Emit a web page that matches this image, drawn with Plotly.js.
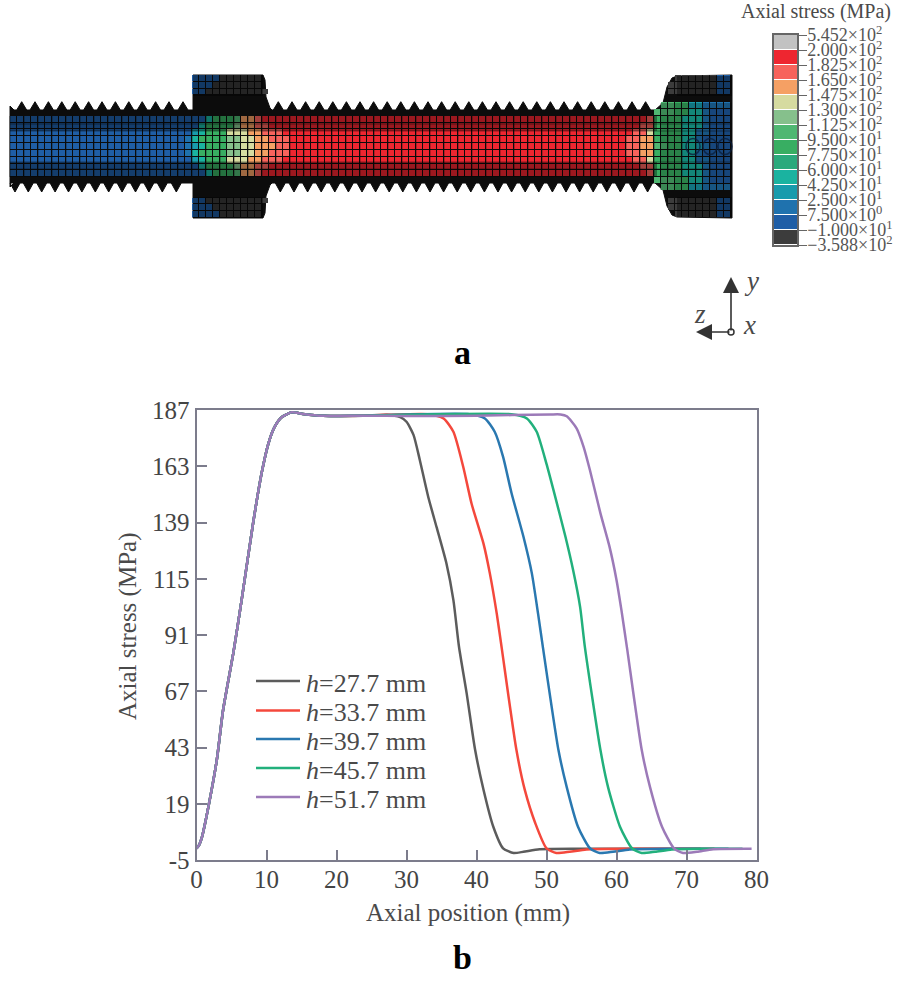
<!DOCTYPE html>
<html>
<head>
<meta charset="utf-8">
<script src="https://cdn.plot.ly/plotly-3.0.1.min.js"></script>
<style>html, body { margin: 0; padding: 0; background: #fff; }</style>
</head>
<body>
<div id="plt0" style="width:898px;height:986px;"></div>
<script>
// panel b: curves, axial position (mm) / axial stress (MPa)
var riseX = [0, 0.3, 0.8, 1.7, 2.9, 3.8, 5.3, 6.5, 8.1, 9.3, 10.3, 11.2, 12.2, 13.6, 15.2, 18.1, 23.8];
var riseY = [0, 1, 5, 17.7, 37.7, 59, 84, 107, 139, 160, 173, 180, 184, 186, 185.3, 184.5, 184.6];

var x277 = [27.2, 29.1, 30, 31, 31.9, 33.1, 34.3, 35.7, 36.7, 37.5, 38.6, 39.8, 41, 42.4, 43.8, 45.3, 46.7, 49, 55, 72];
var y277 = [185, 184, 182, 176.4, 165.7, 150, 137, 121.6, 105.9, 86, 66, 42, 25, 9.2, 0, -2, -1.5, -0.4, -0.2, -0.2];
var x337 = [33, 35.3, 36.7, 38.1, 39.3, 41, 41.9, 42.9, 43.6, 45.7, 46.9, 48.4, 50, 51.4, 53.3, 55.7, 62, 74];
var y337 = [185.2, 183.4, 177.7, 162.8, 147, 130, 117.4, 100, 85.5, 42, 24.9, 10.7, 0, -2, -1.5, -0.5, -0.2, -0.2];
var x397 = [39, 41.2, 42.6, 43.8, 45, 46.7, 47.9, 48.8, 49.5, 51.7, 52.9, 54.5, 56.2, 57.6, 59.5, 61.9, 68, 76];
var y397 = [185.2, 183.4, 177.7, 167, 151.6, 133, 117.4, 100, 85.5, 42, 26, 9.2, 0, -2, -1.5, -0.5, -0.2, -0.2];
var x457 = [45, 47.2, 48.6, 50, 51, 52.7, 53.8, 54.8, 55.5, 57.7, 58.8, 60.5, 62.2, 63.6, 65.5, 67.9, 72, 78];
var y457 = [185.2, 183.4, 177.7, 164, 152.8, 133, 118.7, 103, 85.5, 42, 26, 9.2, 0, -2, -1.5, -0.5, -0.2, -0.2];
var x517 = [30, 40, 50.5, 52, 52.9, 54.3, 55.3, 56.2, 57.7, 59, 60, 60.7, 61.5, 63.6, 64.8, 66.5, 68.2, 69.5, 71.5, 73.8, 79.3];
var y517 = [184.4, 184.6, 185.1, 185.1, 184.3, 179.2, 171.3, 161.4, 143, 128.7, 114.5, 101.7, 85.5, 42, 26, 9.2, 0, -2, -1.5, -0.4, -0.2];

var seriesNames = ['<i>h</i>=27.7 mm', '<i>h</i>=33.7 mm', '<i>h</i>=39.7 mm', '<i>h</i>=45.7 mm', '<i>h</i>=51.7 mm'];
var seriesX = [x277, x337, x397, x457, x517];
var seriesY = [y277, y337, y397, y457, y517];
var seriesColors = ['#5c5c5c', '#f4483c', '#2a78b0', '#22b07c', '#9c7ab8'];

var xTicks = [0, 10, 20, 30, 40, 50, 60, 70, 80];
var yTicks = [-5, 19, 43, 67, 91, 115, 139, 163, 187];

// panel a: contour legend
var legendLabels = ['5.452×10<sup>2</sup>', '2.000×10<sup>2</sup>', '1.825×10<sup>2</sup>', '1.650×10<sup>2</sup>', '1.475×10<sup>2</sup>',
    '1.300×10<sup>2</sup>', '1.125×10<sup>2</sup>', '9.500×10<sup>1</sup>', '7.750×10<sup>1</sup>', '6.000×10<sup>1</sup>',
    '4.250×10<sup>1</sup>', '2.500×10<sup>1</sup>', '7.500×10<sup>0</sup>', '−1.000×10<sup>1</sup>', '−3.588×10<sup>2</sup>'];
var levelEdges = [545.2, 200, 182.5, 165, 147.5, 130, 112.5, 95, 77.5, 60, 42.5, 25, 7.5, -10, -358.8];
var levelColors = ['#c2c2c2', '#ee2630', '#f7635c', '#f5a064', '#d6dba0', '#86c08c', '#4fb772', '#38ae62',
    '#2ba97c', '#1ab3a0', '#189bac', '#1f72ae', '#1f5ea6', '#3c3c3c'];

// panel a: model outline, page pixels
var tipsLeft = [21.7, 35, 48.4, 61.8, 75.2, 88.6, 102, 115.4, 128.8, 142.2, 155.6, 169, 183];
var tipsMid = [278.3, 292, 305.6, 319.2, 332.8, 346.4, 360, 373.6, 387.2, 400.8, 414.4, 428, 441.6, 455.2,
    468.8, 482.4, 496, 509.6, 523.2, 536.8, 550.4, 564, 577.6, 591.2, 604.8, 618.4, 632, 645.6];
var nutX = [193, 193, 263, 265, 266, 270];
var nutY = [110, 75, 75, 80, 97, 108];
var headX = [655, 663, 667, 672, 677, 732];
var headY = [110, 103, 87, 78, 76, 75];
var loopX = [693, 710, 725];

// panel a: axial stress (MPa) along each mesh row, [x where the run ends, value]; top half, mirrored below
var fieldRows = [
    [[193, null], [218, 0], [263, -100], [674, null], [715, -100], [732, 0]],
    [[193, null], [214, 0], [265, -100], [667, null], [715, -100], [732, 0]],
    [[193, null], [208, 0], [266, -100], [665, null], [715, -100], [732, 0]],
    [[732, null]],
    [[660, null], [675, 100], [678, 165], [690, 85], [703, 35], [732, 10]],
    [[657, null], [675, 100], [690, 85], [703, 45], [712, 20], [732, 5]],
    [[205, 0], [213, 50], [235, 85], [240, 110], [255, 150], [262, 170], [648, 190], [657, 170], [685, 85], [700, 50], [712, 20], [732, 5]],
    [[200, 0], [208, 50], [232, 85], [242, 120], [255, 150], [268, 165], [640, 190], [655, 165], [685, 85], [700, 50], [712, 20], [732, 5]],
    [[192, 0], [199, 25], [206, 50], [230, 85], [245, 130], [262, 150], [278, 165], [285, 175], [632, 190], [645, 165], [655, 145], [685, 85], [697, 50], [708, 20], [732, 5]],
    [[187, 0], [194, 20], [201, 45], [227, 85], [241, 120], [258, 140], [272, 155], [290, 170], [625, 190], [638, 170], [652, 150], [657, 135], [685, 85], [695, 50], [705, 20], [732, 5]],
    [[185, 0], [192, 20], [199, 40], [206, 55], [227, 85], [241, 120], [258, 140], [273, 155], [292, 170], [623, 190], [637, 170], [652, 150], [657, 135], [665, 100], [683, 85], [693, 50], [700, 35], [710, 20], [732, 5]]
];

var serif = '"Liberation Serif", "Times New Roman", serif';
var midY = 146.5;

function levelOf(v) {   // index of the contour band a stress falls in
    for (var i = 1; i < levelEdges.length; i++) {
        if (v >= levelEdges[i]) return i - 0.5;
    }
    return levelColors.length - 0.5;
}

function bandScale() {
    var n = levelColors.length, out = [];
    for (var i = 0; i < n; i++) {
        out.push([i / n, levelColors[i]]);
        out.push([(i + 1) / n, levelColors[i]]);
    }
    return out;
}

function outlinePath() {
    var xs = [10, 14], ys = [106, 110], i;
    tipsLeft.forEach(function (t) { xs.push(t - 5, t, t + 5); ys.push(110, 101.7, 110); });
    xs = xs.concat(nutX); ys = ys.concat(nutY);
    xs.push(272); ys.push(110);
    tipsMid.forEach(function (t) { xs.push(t - 5, t, t + 5); ys.push(110, 101.7, 110); });
    xs = xs.concat(headX); ys = ys.concat(headY);

    // lower side, threads sit half a pitch back
    var bx = [10, 14], by = [187, 183];
    tipsLeft.forEach(function (t) { bx.push(t - 11.7, t - 6.7, t - 1.7); by.push(183, 192, 183); });
    bx = bx.concat(nutX); by = by.concat(nutY.map(function (v) { return 2 * midY - v; }));
    bx.push(272); by.push(183);
    tipsMid.forEach(function (t) { bx.push(t - 3, t + 2, t + 7); by.push(183, 192, 183); });
    bx = bx.concat(headX); by = by.concat(headY.map(function (v) { return 2 * midY - v; }));

    var path = 'M' + xs[0] + ',' + ys[0];
    for (i = 1; i < xs.length; i++) path += 'L' + xs[i] + ',' + ys[i];
    for (i = bx.length - 1; i >= 0; i--) path += 'L' + bx[i] + ',' + by[i];
    return path + 'Z';
}

function fieldTrace() {
    var cols = [], rows = [], z = [];
    for (var c = 0; c < 103; c++) cols.push(13.5 + 7 * c);
    var order = fieldRows.concat(fieldRows.slice(0, 10).reverse());
    order.forEach(function (runs, i) {
        rows.push(78.4 + 6.81 * i);
        z.push(cols.map(function (cx) {
            for (var k = 0; k < runs.length; k++) {
                if (cx < runs[k][0]) return runs[k][1] === null ? null : levelOf(runs[k][1]);
            }
            return null;
        }));
    });
    return {
        type: 'heatmap', x: cols, y: rows, z: z, xaxis: 'x2', yaxis: 'y2',
        colorscale: bandScale(), zmin: 0, zmax: levelColors.length,
        showscale: false, xgap: 1, ygap: 1, hoverinfo: 'skip', showlegend: false
    };
}

function meshTrace() {
    var xs = [], ys = [];
    for (var gx = 10; gx < 732; gx += 14) {
        xs.push(gx, gx, null);
        ys.push(116, 177, null);
    }
    [124, 131, 162, 169].forEach(function (gy) {
        xs.push(10, 732, null);
        ys.push(gy, gy, null);
    });
    return {
        type: 'scatter', mode: 'lines', x: xs, y: ys, xaxis: 'x2', yaxis: 'y2',
        line: {color: 'rgba(10,10,10,0.45)', width: 1.2}, hoverinfo: 'skip', showlegend: false
    };
}

function createPlot() {
    var data = [];

    seriesNames.forEach(function (name, i) {
        data.push({
            type: 'scatter', mode: 'lines', name: name,
            x: riseX.concat(seriesX[i]), y: riseY.concat(seriesY[i]),
            line: {color: seriesColors[i], width: 2.5, shape: 'spline', smoothing: 0.6}
        });
    });

    data.push(fieldTrace());
    data.push(meshTrace());

    // contour legend
    data.push({
        type: 'heatmap', xaxis: 'x3', yaxis: 'y3', x: [0], y: levelColors.map(function (c, i) { return i + 0.5; }),
        z: levelColors.map(function (c, i) { return [i + 0.5]; }),
        colorscale: bandScale(), zmin: 0, zmax: levelColors.length, ygap: 1,
        showscale: false, hoverinfo: 'skip', showlegend: false
    });

    var axisColor = '#7c7c8c';
    var dim = function (x0, x1, y0, y1, alpha) {
        return {type: 'rect', xref: 'x2', yref: 'y2', x0: x0, x1: x1, y0: y0, y1: y1,
            fillcolor: 'rgba(0,0,0,' + alpha + ')', line: {width: 0}};
    };
    var shapes = [
        {type: 'path', xref: 'x2', yref: 'y2', path: outlinePath(), fillcolor: '#0c0c0c', line: {color: '#0c0c0c', width: 1}, layer: 'below'},
        dim(10, 657, 116, 131, 0.35),
        dim(10, 657, 162, 177, 0.35),
        dim(660, 732, 103, 190, 0.25),
        dim(677, 732, 76, 96, 0.4),
        dim(677, 732, 197, 217, 0.4),
        dim(193, 263, 75, 96, 0.4),
        dim(193, 263, 197, 218, 0.4),
        {type: 'rect', xref: 'x3 domain', yref: 'y3 domain', x0: 0, x1: 1, y0: 0, y1: 1, fillcolor: '#555', line: {width: 0}, layer: 'below'},
        {type: 'circle', xref: 'x2', yref: 'y2', x0: 728, x1: 734, y0: 329, y1: 335, fillcolor: '#fff', line: {color: '#333', width: 1.5}}
    ];
    loopX.forEach(function (cx) {
        shapes.push({type: 'circle', xref: 'x2', yref: 'y2', x0: cx - 7, x1: cx + 7, y0: midY - 8, y1: midY + 8,
            line: {color: 'rgba(10,30,60,0.8)', width: 1.5}});
    });

    var note = function (x, y, text, size, color) {
        return {xref: 'paper', yref: 'paper', x: x / 898, y: 1 - y / 986, text: text, showarrow: false,
            xanchor: 'center', yanchor: 'middle',
            font: {family: serif, size: size, color: color || '#4a4a4a'}};
    };
    var arrow = function (x, y, ax, ay) {
        return {xref: 'x2', yref: 'y2', axref: 'x2', ayref: 'y2', x: x, y: y, ax: ax, ay: ay, text: '',
            showarrow: true, arrowhead: 2, arrowsize: 2, arrowwidth: 1.6, arrowcolor: '#333'};
    };

    // line key drawn by hand: the rows sit closer than a Plotly legend allows at this font size
    var keyY = [681, 710.5, 739, 768, 797];
    var annotations = [
        note(816, 11, 'Axial stress (MPa)', 20),
        note(463, 352, '<b>a</b>', 34, '#000'),
        note(463, 957, '<b>b</b>', 34, '#000'),
        note(468, 913, 'Axial position (mm)', 25),
        arrow(731, 277, 731, 332),
        arrow(696, 332, 731, 332),
        note(751, 281, '<i>y</i>', 27),
        note(700, 314, '<i>z</i>', 27),
        note(749, 325, '<i>x</i>', 27)
    ];
    var yTitle = note(128, 627, 'Axial stress (MPa)', 25);
    yTitle.textangle = -90;
    annotations.push(yTitle);
    seriesNames.forEach(function (name, i) {
        var a = note(304, keyY[i] + 2, name, 26);
        a.xanchor = 'left';
        annotations.push(a);
        shapes.push({type: 'line', xref: 'paper', yref: 'paper', x0: 256 / 898, x1: 300 / 898,
            y0: 1 - keyY[i] / 986, y1: 1 - keyY[i] / 986, line: {color: seriesColors[i], width: 2.5}});
    });

    var layout = {
        width: 898, height: 986,
        margin: {l: 0, r: 0, t: 0, b: 0},
        paper_bgcolor: '#fff', plot_bgcolor: '#fff',
        showlegend: false,
        font: {family: serif, color: '#444'},
        xaxis: {
            domain: [196.5 / 898, 756.5 / 898], range: [0, 80], anchor: 'y',
            tickvals: xTicks, ticktext: xTicks.map(String), ticks: 'inside', ticklen: 10, tickwidth: 1.5, tickcolor: axisColor,
            showline: true, linecolor: axisColor, linewidth: 2, mirror: true, showgrid: false, zeroline: false,
            ticklabelstandoff: -4,
            tickfont: {family: serif, size: 25, color: '#444'}
        },
        yaxis: {
            domain: [1 - 860 / 986, 1 - 410 / 986], range: [-5, 187], anchor: 'x',
            tickvals: yTicks, ticktext: yTicks.map(String), ticks: 'inside', ticklen: 10, tickwidth: 1.5, tickcolor: axisColor,
            showline: true, linecolor: axisColor, linewidth: 2, mirror: true, showgrid: false, zeroline: false,
            tickfont: {family: serif, size: 25, color: '#444'}
        },
        xaxis2: {domain: [0, 1], range: [0, 898], anchor: 'y2', visible: false, fixedrange: true},
        yaxis2: {domain: [1 - 400 / 986, 1], range: [400, 0], anchor: 'x2', visible: false, fixedrange: true},
        xaxis3: {domain: [774 / 898, 797 / 898], range: [-0.5, 0.5], anchor: 'y3', showticklabels: false, ticks: '',
            showgrid: false, zeroline: false, showline: true, linecolor: '#666', linewidth: 1.5, mirror: true},
        yaxis3: {domain: [1 - 245 / 986, 1 - 35 / 986], range: [14, 0], anchor: 'x3', side: 'right',
            tickvals: legendLabels.map(function (l, i) { return i; }), ticktext: legendLabels, ticks: 'outside', ticklen: 8,
            tickwidth: 1.2, tickcolor: '#666', showgrid: false, zeroline: false,
            showline: true, linecolor: '#666', linewidth: 1.5, mirror: true, ticklabelstandoff: -3,
            tickfont: {family: serif, size: 18, color: '#555'}},
        shapes: shapes,
        annotations: annotations
    };

    Plotly.newPlot(document.getElementById('plt0'), data, layout, {displayModeBar: false});
}

createPlot();
</script>
</body>
</html>
